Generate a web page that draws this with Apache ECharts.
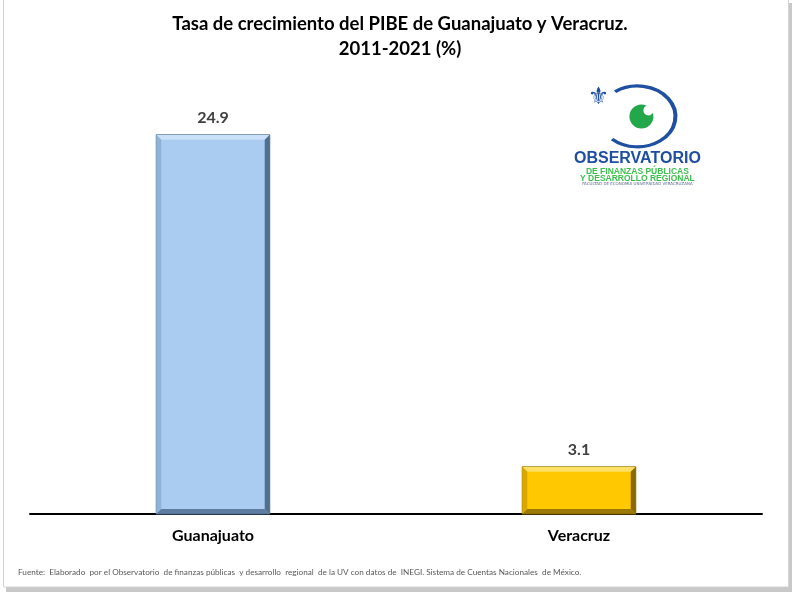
<!DOCTYPE html>
<html>
<head>
<meta charset="utf-8">
<script src="https://cdn.jsdelivr.net/npm/echarts@6/dist/echarts.min.js"></script>
<style>
html,body{margin:0;padding:0;background:#fff;}
#c{width:800px;height:600px;}
</style>
</head>
<body>
<div id="c"></div>
<script>
var categories = ['Guanajuato', 'Veracruz'];
var values = [24.9, 3.1];
var barFaces = ['#A9CCF0', '#FFC800'];
var barLight = ['#C9E0F8', '#FFE066'];
var barMid = ['#8FB2D6', '#D9A800'];
var barDark = ['#4F6F90', '#8A6A00'];
var titleText = 'Tasa de crecimiento del PIBE de Guanajuato y Veracruz.\n2011-2021 (%)';
var sourceText = 'Fuente:  Elaborado  por el Observatorio  de finanzas públicas  y desarrollo  regional  de la UV con datos de  INEGI. Sistema de Cuentas Nacionales  de México.';

var FONT = 'Lato, "Open Sans", sans-serif';
var chart = echarts.init(document.getElementById('c'));

function renderBar(params, api) {
  var idx = api.value(0);
  var val = api.value(1);
  var top = api.coord([idx, val]);
  var base = api.coord([idx, 0]);
  var w = api.size([1, 0])[0] * 0.31;
  var x0 = top[0] - w / 2, x1 = top[0] + w / 2;
  var y0 = top[1], y1 = base[1];
  var b = 5;
  var i = params.dataIndex;
  return {
    type: 'group',
    children: [
      { type: 'rect', shape: { x: x0, y: y0, width: w, height: y1 - y0 },
        style: { fill: barFaces[i], stroke: barDark[i], lineWidth: 1 } },
      { type: 'polygon', shape: { points: [[x0, y0], [x1, y0], [x1 - b, y0 + b], [x0 + b, y0 + b]] },
        style: { fill: barLight[i] } },
      { type: 'polygon', shape: { points: [[x0, y0], [x0 + b, y0 + b], [x0 + b, y1 - b], [x0, y1]] },
        style: { fill: barMid[i] } },
      { type: 'polygon', shape: { points: [[x1, y0], [x1, y1], [x1 - b, y1 - b], [x1 - b, y0 + b]] },
        style: { fill: barDark[i] } },
      { type: 'polygon', shape: { points: [[x0, y1], [x0 + b, y1 - b], [x1 - b, y1 - b], [x1, y1]] },
        style: { fill: barDark[i], opacity: 0.85 } },
      { type: 'text', x: top[0], y: y0 - 9,
        style: { text: val.toFixed(1), fill: '#404040', font: 'bold 16px ' + FONT, align: 'center', verticalAlign: 'bottom' } }
    ]
  };
}

var option = {
  backgroundColor: '#ffffff',
  animation: false,
  title: {
    text: titleText,
    left: 'center',
    top: 7,
    textStyle: { fontFamily: FONT, fontWeight: 'bold', fontSize: 18.5, color: '#000', lineHeight: 25 }
  },
  grid: { left: 30, right: 38, top: 57, bottom: 86 },
  xAxis: {
    type: 'category',
    data: categories,
    axisLine: { lineStyle: { color: '#000', width: 2 } },
    axisTick: { show: false },
    axisLabel: { margin: 14, fontFamily: FONT, fontWeight: 'bold', fontSize: 16, color: '#000' }
  },
  yAxis: {
    type: 'value',
    min: 0, max: 30,
    show: false,
    splitLine: { show: false }
  },
  series: [{
    type: 'custom',
    renderItem: renderBar,
    encode: { x: 0, y: 1 },
    data: categories.map(function (c, i) { return [i, values[i]]; })
  }],
  graphic: [
    { type: 'rect', z: -10, shape: { x: 6, y: 3, width: 786, height: 589 },
      style: { fill: '#c8c8c8' } },
    { type: 'rect', z: -9, shape: { x: 3.5, y: -1, width: 785, height: 588 },
      style: { fill: '#fff', stroke: '#d4d4d4', lineWidth: 1 } },
    { type: 'text', left: 18, top: 568,
      style: { text: sourceText, fill: '#595959', font: '8.2px ' + FONT } },
    // logo
    { type: 'group', left: 574, top: 84, children: [
      { type: 'arc', shape: { cx: 62, cy: 33, r: 38, startAngle: -2.2, endAngle: 2.3 },
        style: { stroke: '#1f4fa0', lineWidth: 4, fill: null }, scaleY: 0.8, originY: 33 },
      { type: 'circle', shape: { cx: 66, cy: 33, r: 12 }, style: { fill: '#22a84a' } },
      { type: 'circle', shape: { cx: 73, cy: 27, r: 5 }, style: { fill: '#fff' } },
      { type: 'text', x: 23, y: 2, style: { text: '⚜', fill: '#1f4fa0', font: 'bold 24px "DejaVu Sans"', align: 'center' } },
      { type: 'text', x: 62, y: 67, style: { text: 'OBSERVATORIO', fill: '#1f4fa0', font: 'bold 16px "Liberation Sans"', align: 'center' } },
      { type: 'text', x: 62, y: 84, style: { text: 'DE FINANZAS PÚBLICAS', fill: '#3cbf4f', font: 'bold 8.5px "Liberation Sans"', align: 'center' } },
      { type: 'text', x: 62, y: 91, style: { text: 'Y DESARROLLO REGIONAL', fill: '#3cbf4f', font: 'bold 8.5px "Liberation Sans"', align: 'center' } },
      { type: 'text', x: 62, y: 99, style: { text: 'FACULTAD DE ECONOMÍA UNIVERSIDAD VERACRUZANA', fill: '#5a6a8a', font: '4px "DejaVu Sans"', align: 'center' } }
    ]}
  ]
};
chart.setOption(option);
</script>
</body>
</html>
